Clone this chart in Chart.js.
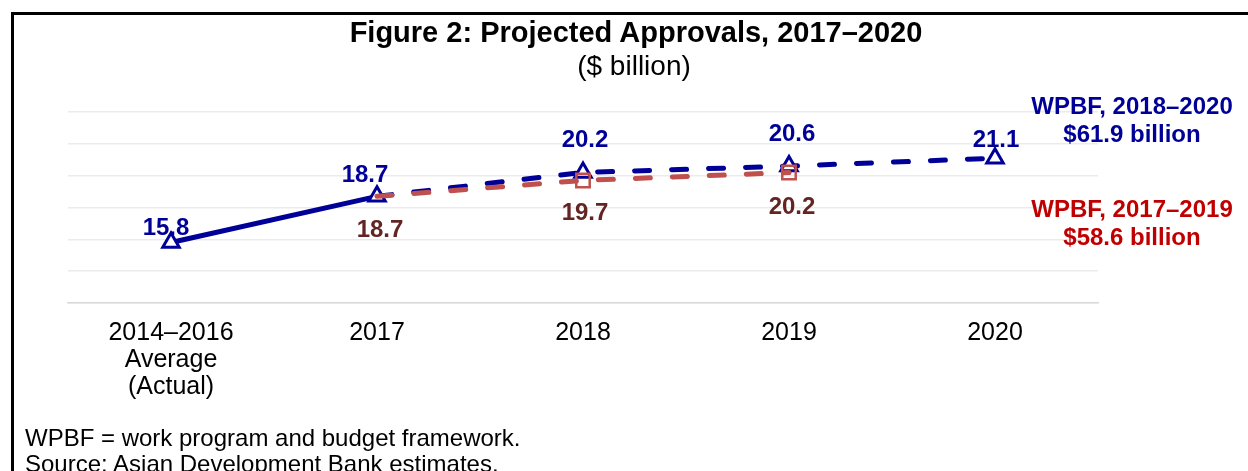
<!DOCTYPE html>
<html>
<head>
<meta charset="utf-8">
<script src="https://cdn.jsdelivr.net/npm/chart.js@4.4.1/dist/chart.umd.min.js"></script>
<style>
  html, body { margin: 0; padding: 0; background: #fff; }
  body { width: 1248px; height: 471px; position: relative; overflow: hidden; font-family: "Liberation Sans", Arial, sans-serif; }
  #frame { position: absolute; left: 11px; top: 12px; width: 1300px; height: 500px; border-top: 3px solid #000; border-left: 3px solid #000; }
  #wrap { position: absolute; left: 0; top: 0; width: 1248px; height: 471px; }
  .txt { position: absolute; white-space: nowrap; }
  .title { left: 0; width: 1272px; text-align: center; top: 15px; font-weight: bold; font-size: 29px; line-height: 34px; color: #000; }
  .sub { left: 0; width: 1268px; text-align: center; top: 50px; font-size: 28px; line-height: 32px; color: #000; }
  .ann { width: 300px; left: 982px; text-align: center; font-weight: bold; font-size: 24px; line-height: 28px; }
  .foot { left: 25px; font-size: 24px; color: #000; line-height: 26px; }
</style>
</head>
<body>
<div id="frame"></div>
<div id="wrap"><canvas id="chart" width="1248" height="471"></canvas></div>
<div class="txt title">Figure 2: Projected Approvals, 2017–2020</div>
<div class="txt sub">($ billion)</div>
<div class="txt ann" style="top:92px;color:#000099;">WPBF, 2018–2020<br>$61.9 billion</div>
<div class="txt ann" style="top:195px;color:#C00000;">WPBF, 2017–2019<br>$58.6 billion</div>
<div class="txt foot" style="top:425px;">WPBF = work program and budget framework.<br>Source: Asian Development Bank estimates.</div>

<script>
// categories and series
const categories = [['2014–2016', 'Average', '(Actual)'], '2017', '2018', '2019', '2020'];
const wpbf2018 = [15.8, 18.7, 20.2, 20.6, 21.1];
const wpbf2017 = [null, 18.7, 19.7, 20.2, null];
const yTicks = [12, 14, 16, 18, 20, 22, 24];

const BLUE = '#000099';
const RED_LINE = '#C0504D';
const RED_LABEL = '#632523';

// label nudges (pixels) for the value labels
const blueLabelDx = [-5, -12, 2, 3, 1];
const blueLabelDy = [-14, -21, -32, -32, -18];
const redLabelDx = [0, 3, 2, 3, 0];
const redLabelDy = [0, 34, 33, 35, 0];

const valueLabels = {
  id: 'valueLabels',
  afterDatasetsDraw(chart) {
    const ctx = chart.ctx;
    ctx.save();
    ctx.font = 'bold 24px "Liberation Sans", Arial, sans-serif';
    ctx.textAlign = 'center';
    ctx.textBaseline = 'middle';
    chart.data.datasets.forEach((ds, di) => {
      const meta = chart.getDatasetMeta(di);
      meta.data.forEach((pt, i) => {
        const v = ds.data[i];
        if (v == null) return;
        ctx.fillStyle = ds.labelColor;
        ctx.fillText(v.toFixed(1), pt.x + ds.labelDx[i], pt.y + ds.labelDy[i]);
      });
    });
    ctx.restore();
  }
};

new Chart(document.getElementById('chart'), {
  type: 'line',
  data: {
    labels: categories,
    datasets: [
      {
        label: 'WPBF, 2017–2019',
        data: wpbf2017,
        borderColor: RED_LINE,
        borderWidth: 5,
        borderDash: [15, 22],
        borderCapStyle: 'round',
        pointStyle: 'rect',
        pointRadius: [0, 0, 9.5, 9.5, 0],
        pointBorderWidth: 2.5,
        pointBorderColor: RED_LINE,
        pointBackgroundColor: 'rgba(0,0,0,0)',
        labelColor: RED_LABEL,
        labelDx: redLabelDx,
        labelDy: redLabelDy
      },
      {
        label: 'WPBF, 2018–2020',
        data: wpbf2018,
        borderColor: BLUE,
        borderWidth: 5,
        borderCapStyle: 'round',
        segment: {
          borderDash: c => c.p0DataIndex >= 1 ? [15, 22] : undefined
        },
        pointStyle: 'triangle',
        pointRadius: 9.5,
        pointBorderWidth: 3,
        pointBorderColor: BLUE,
        pointBackgroundColor: '#fff',
        labelColor: BLUE,
        labelDx: blueLabelDx,
        labelDy: blueLabelDy
      }
    ]
  },
  options: {
    responsive: false,
    animation: false,
    layout: { padding: { left: 68, right: 150, top: 112, bottom: 0 } },
    plugins: {
      legend: { display: false },
      tooltip: { enabled: false }
    },
    scales: {
      x: {
        offset: true,
        grid: { display: false },
        border: { display: true, color: '#d9d9d9', width: 1.5 },
        ticks: {
          color: '#000',
          font: { family: '"Liberation Sans", Arial, sans-serif', size: 25, lineHeight: 1.08 },
          padding: 9,
          maxRotation: 0,
          autoSkip: false
        },
        afterFit: s => { s.height = 168; }
      },
      y: {
        min: 12,
        max: 24,
        afterBuildTicks: s => { s.ticks = yTicks.map(v => ({ value: v })); },
        grid: { color: '#ebebeb', lineWidth: 1.5, drawTicks: false },
        border: { display: false },
        ticks: { display: false },
        afterFit: s => { s.width = 0; }
      }
    }
  },
  plugins: [valueLabels]
});
</script>
</body>
</html>
